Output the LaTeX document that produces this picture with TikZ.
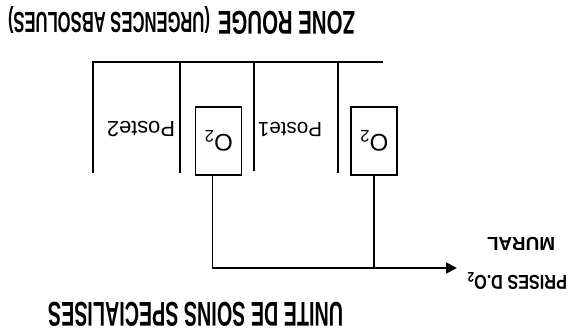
\documentclass[tikz,border=0pt]{standalone}
\usepackage{fontspec}
\setmainfont{Liberation Sans}
\usetikzlibrary{arrows.meta}
\begin{document}
\begin{tikzpicture}[x=1pt,y=1pt,
  wall/.style={line width=2.6pt},
  o2box/.style={draw,line width=1.8pt,minimum width=46pt,minimum height=68pt,inner sep=0pt},
  pipe/.style={line width=1.8pt},
  flip/.style={rotate=180,inner sep=0pt,anchor=base},
  fliptext/.style={rotate=180,inner sep=0pt,anchor=center},
]
\useasboundingbox (0,0) rectangle (577,336);
% titles (the whole picture is turned upside down)
\node[flip] (zr) at (286.5,324) {\resizebox{137pt}{23pt}{\bfseries ZONE ROUGE}};
\node[flip] (ua) at (109,323) {\resizebox{202pt}{21pt}{\bfseries (URGENCES ABSOLUES)}};
\node[flip] (usi) at (195.5,33) {\resizebox{295pt}{24pt}{\bfseries UNITE DE SOINS SPECIALISES}};
\node[flip] (mural) at (521,98) {\resizebox{68pt}{13pt}{\bfseries MURAL}};
\node[flip] (prises) at (517,60) {\resizebox{100pt}{14pt}{\bfseries PRISES D.O\textsubscript{2}}};
% walls
\draw[wall] (93,163) -- (93,274) -- (383,274);
\draw[wall] (180,274) -- (180,163);
\draw[wall] (254,274) -- (254,165);
\draw[wall] (338,274) -- (338,163);
% posts
\node[fliptext] (p2) at (141,207) {\resizebox{68pt}{!}{\fontsize{22}{22}\selectfont Poste2}};
\node[fliptext] (p1) at (290,207) {\resizebox{64pt}{!}{\fontsize{22}{22}\selectfont Poste1}};
% O2 boxes
\node[o2box] (b1) at (218.5,195) {\rotatebox{180}{\fontsize{24}{24}\selectfont O\textsubscript{2}}};
\node[o2box] (b2) at (374,195) {\rotatebox{180}{\fontsize{24}{24}\selectfont O\textsubscript{2}}};
% pipes
\coordinate (tip) at (457,68);
\draw[pipe,-{Triangle[length=11pt,width=11pt]}] ([xshift=-6pt]b1.south) |- (tip);
\draw[pipe] (b2.south) -- (b2.south |- tip);
\end{tikzpicture}
\end{document}
